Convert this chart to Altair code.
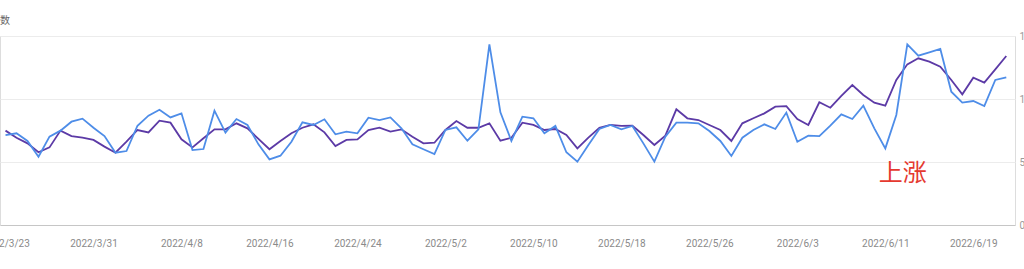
import altair as alt
import pandas as pd

start_date = "2022-03-23"

clicks = [71.4, 72.8, 66.7, 54.2, 70.1, 74.9, 82.0, 84.4, 77.2, 70.6,
          57.4, 58.7, 78.8, 86.8, 91.5, 85.4, 88.6, 59.5, 60.3, 90.7,
          73.3, 84.1, 79.4, 64.0, 52.1, 55.0, 66.1, 81.5, 79.4, 83.9,
          72.0, 74.1, 72.8, 85.2, 83.3, 85.4, 76.7, 64.0, 60.1, 56.3,
          75.4, 77.5, 66.9, 75.9, 143.4, 89.4, 66.7, 86.0, 84.7, 72.8,
          78.6, 57.7, 50.3, 63.5, 76.2, 79.4, 75.9, 78.6, 64.8, 50.3,
          70.1, 81.2, 81.2, 80.7, 74.6, 66.7, 54.8, 69.3, 75.4, 79.9,
          76.2, 89.2, 66.1, 70.9, 70.6, 78.8, 87.8, 84.1, 94.7, 76.7,
          60.8, 87.3, 143.4, 134.4, 137.0, 139.7, 105.8, 97.1, 98.4, 94.4,
          115.1, 117.2]

impressions = [74.9, 69.3, 64.8, 57.7, 61.6, 74.9, 70.6, 69.3, 67.5, 62.2,
               57.4, 66.1, 75.4, 73.5, 82.8, 81.2, 68.0, 61.6, 68.8, 75.9,
               75.9, 80.7, 76.7, 68.3, 60.1, 66.7, 72.8, 77.2, 79.9, 73.5,
               62.7, 67.5, 68.0, 75.4, 77.2, 74.1, 75.9, 70.1, 64.8, 65.3,
               75.4, 82.5, 77.2, 77.2, 80.7, 66.9, 69.3, 81.2, 79.4, 75.4,
               76.2, 71.4, 60.8, 69.3, 77.2, 79.4, 78.6, 78.8, 71.4, 63.5,
               70.9, 91.8, 84.7, 83.3, 79.4, 75.4, 66.7, 80.7, 84.7, 88.6,
               93.9, 94.4, 84.1, 79.4, 97.4, 93.1, 102.4, 111.1, 103.2, 97.1,
               94.7, 115.1, 127.5, 132.3, 129.6, 125.7, 115.1, 103.7, 116.9, 113.0,
               123.5, 134.1]

tick_dates = [(3, 23), (3, 31), (4, 8), (4, 16), (4, 24), (5, 2), (5, 10),
              (5, 18), (5, 26), (6, 3), (6, 11), (6, 19)]
y_ticks = [0, 50, 100, 150]

note_text = ["上涨"]
note_date = ["2022-06-12T14:00:00Z"]
note_value = [40.5]

series_names = ["展示次数", "点击次数"]
series_colors = ["#5c3aa6", "#4e8de8"]

dates = pd.date_range(start_date, periods=len(clicks), freq="D").strftime("%Y-%m-%d")
df = pd.concat([
    pd.DataFrame({"date": dates, "value": impressions, "series": series_names[0]}),
    pd.DataFrame({"date": dates, "value": clicks, "series": series_names[1]}),
], ignore_index=True)

note_df = pd.DataFrame({"date": note_date, "value": note_value, "text": note_text})

x_scale = alt.Scale(
    type="utc",
    domain=[alt.DateTime(year=2022, month=3, date=22, hours=12, utc=True),
            alt.DateTime(year=2022, month=6, date=22, hours=19, utc=True)],
)
y_scale = alt.Scale(domain=[0, 150], nice=False, zero=True)

x_axis = alt.Axis(
    title=None,
    values=[alt.DateTime(year=2022, month=m, date=d, utc=True) for m, d in tick_dates],
    labelExpr="utcFormat(datum.value, '%Y/%-m/%-d')",
    labelFont="Roboto",
    labelFontSize=10,
    labelColor="#8a8a8a",
    labelPadding=13,
    ticks=False,
    grid=False,
    domainColor="#c6c6c6",
    domainWidth=1,
    labelOverlap=False,
    labelFlush=False,
)
y_axis = alt.Axis(
    orient="right",
    title=None,
    values=y_ticks,
    labelFont="Roboto",
    labelFontSize=10,
    labelColor="#9a9a9a",
    labelPadding=4,
    ticks=False,
    domain=False,
    grid=True,
    gridColor="#ececec",
    gridWidth=1,
)

lines = alt.Chart(df).mark_line(strokeWidth=1.8, interpolate="linear").encode(
    x=alt.X("date:T", scale=x_scale, axis=x_axis),
    y=alt.Y("value:Q", scale=y_scale, axis=y_axis),
    color=alt.Color("series:N", scale=alt.Scale(domain=series_names, range=series_colors), legend=None),
)

note = alt.Chart(note_df).mark_text(
    font="Noto Sans CJK SC", fontSize=24, color="#e5392f", align="center", baseline="middle"
).encode(
    x=alt.X("date:T", scale=x_scale, axis=x_axis),
    y=alt.Y("value:Q", scale=y_scale, axis=y_axis),
    text="text:N",
)

chart = alt.layer(lines, note).properties(
    width=1015,
    height=189,
    padding={"left": 0, "top": 36, "right": 9, "bottom": 44},
    autosize=alt.AutoSizeParams(type="none"),
    title=alt.TitleParams(
        "数", anchor="start", fontSize=10, color="#666666", font="Noto Sans CJK SC",
        fontWeight="normal", offset=-5, baseline="bottom", frame="group",
    ),
).configure_view(stroke=None).configure(background="white")

chart.save("out.html", embed_options={"renderer": "svg", "actions": False})
